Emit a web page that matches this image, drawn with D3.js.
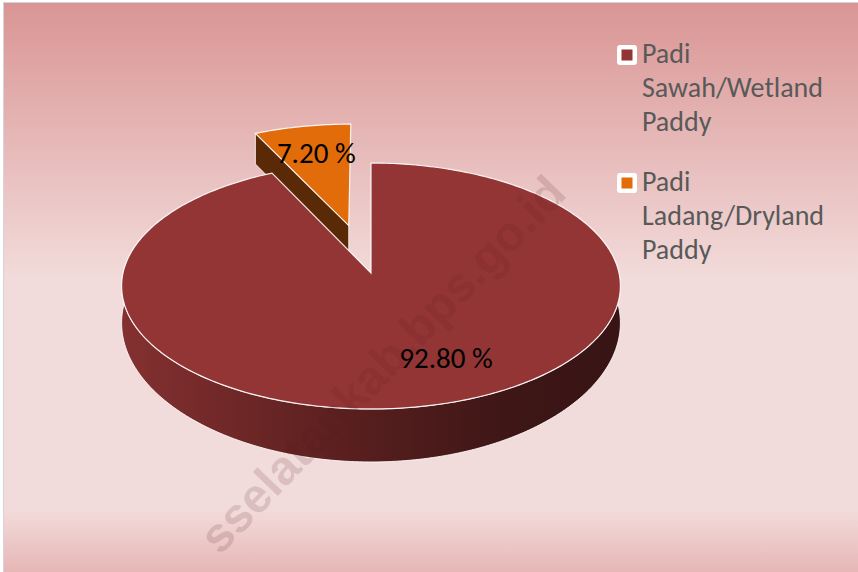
<!doctype html>
<html>
  <head>
    <meta charset="utf-8">
    <script src="https://cdn.jsdelivr.net/npm/d3@7"></script>
    <style>
      body { margin: 0; background: white; }
      .chart text { font-family: Carlito, Lato, "Open Sans", sans-serif; }
      .legend text { fill: #595959; font-size: 28px; }
      .slice-label { fill: black; font-size: 29px; }
      .watermark { font-family: "Liberation Sans", Arial, sans-serif !important; font-weight: bold; font-size: 48px; fill: #5a1a1a; fill-opacity: 0.15; }
    </style>
  </head>
  <body>
    <svg class="chart"></svg>

    <script>
      // data
      const categories = ["Padi Sawah/Wetland Paddy", "Padi Ladang/Dryland Paddy"]
      const shares = [92.80, 7.20]
      const legendLines = [["Padi", "Sawah/Wetland", "Paddy"], ["Padi", "Ladang/Dryland", "Paddy"]]
      const topColors = ["#943535", "#e36c0a"]
      const sideColors = ["#5a1f1f", "#5a2a06"]
      const explode = [0, 0.417]
      const watermarkText = "sselatankab.bps.go.id"

      const width = 858, height = 572

      // projection of the tilted pie (plane coords U, V in radius units)
      const cx = 371, cy = 273, rx = 248, ry = 121.6, k = 0.1057
      const project = (U, V, drop) => {
        const f = 1 / (1 - k * V)
        return [cx + rx * U * f, cy + ry * V * f + (drop || 0)]
      }
      const depth = (V) => 30 + 5.75 * (V + 1) * (V + 1)

      const svg = d3.select(".chart")
                    .attr("width", width)
                    .attr("height", height)

      const defs = svg.append("defs")

      const bg = defs.append("linearGradient")
                     .attr("id", "bg")
                     .attr("x1", 0).attr("y1", 0).attr("x2", 0).attr("y2", 1)
      bg.append("stop").attr("offset", 0).attr("stop-color", "#d99594")
      bg.append("stop").attr("offset", 0.48).attr("stop-color", "#f2dcdb")
      bg.append("stop").attr("offset", 0.87).attr("stop-color", "#f2dcdb")
      bg.append("stop").attr("offset", 1).attr("stop-color", "#e4afaf")

      const wall = defs.append("linearGradient")
                       .attr("id", "wall")
                       .attr("gradientUnits", "userSpaceOnUse")
                       .attr("x1", cx - rx).attr("y1", 0).attr("x2", cx + rx).attr("y2", 0)
      wall.append("stop").attr("offset", 0).attr("stop-color", "#843030")
      wall.append("stop").attr("offset", 0.45).attr("stop-color", "#5a1f1f")
      wall.append("stop").attr("offset", 0.78).attr("stop-color", "#3e1616")
      wall.append("stop").attr("offset", 1).attr("stop-color", "#381414")

      svg.append("rect")
        .attr("x", 3.5).attr("y", 2.5)
        .attr("width", width + 10).attr("height", height + 10)
        .attr("fill", "url(#bg)")
        .attr("stroke", "#d4d4d4")

      const pie = d3.pie().sort(null).value(d => d)
      const arcs = pie(shares)

      const line = d3.line()

      // points along the rim of a slice
      function rim(a, t0, t1, drop) {
        const ox = explode[a.index] * Math.sin((a.startAngle + a.endAngle) / 2)
        const oy = -explode[a.index] * Math.cos((a.startAngle + a.endAngle) / 2)
        const n = Math.max(4, Math.ceil((t1 - t0) * 60))
        return d3.range(n + 1).map(i => {
          const t = t0 + (t1 - t0) * i / n
          const U = ox + Math.sin(t), V = oy - Math.cos(t)
          return project(U, V, drop ? depth(V) : 0)
        })
      }
      function centre(a, r, t, drop) {
        const ox = explode[a.index] * Math.sin((a.startAngle + a.endAngle) / 2)
        const oy = -explode[a.index] * Math.cos((a.startAngle + a.endAngle) / 2)
        const U = ox + r * Math.sin(t), V = oy - r * Math.cos(t)
        return project(U, V, drop ? depth(V) : 0)
      }

      const pieG = svg.append("g")

      // small exploded slice first, it sits behind the big one
      const small = arcs[1], big = arcs[0]

      const cutTop = [centre(small, 0, 0), centre(small, 1, small.startAngle)]
      const cutBottom = [centre(small, 1, small.startAngle, true), centre(small, 0, 0, true)]
      pieG.append("path")
        .attr("d", line(cutTop.concat(cutBottom)) + "Z")
        .attr("fill", sideColors[1])
        .attr("stroke", "white").attr("stroke-width", 1).attr("stroke-opacity", 0.8)

      pieG.append("path")
        .attr("d", line([centre(small, 0, 0)].concat(rim(small, small.startAngle, small.endAngle))) + "Z")
        .attr("fill", topColors[1])
        .attr("stroke", "white").attr("stroke-width", 1.2).attr("stroke-opacity", 0.9)

      // front wall of the big slice
      const w0 = Math.PI / 2 - 0.5, w1 = 3 * Math.PI / 2 + 0.5
      const wallTop = rim(big, w0, w1)
      const wallBottom = rim(big, w0, w1, true).reverse()
      pieG.append("path")
        .attr("d", line(wallTop.concat(wallBottom)) + "Z")
        .attr("fill", "url(#wall)")
        .attr("stroke", "white").attr("stroke-width", 1).attr("stroke-opacity", 0.85)

      pieG.append("path")
        .attr("d", line([centre(big, 0, 0)].concat(rim(big, big.startAngle, big.endAngle))) + "Z")
        .attr("fill", topColors[0])
        .attr("stroke", "white").attr("stroke-width", 1.2).attr("stroke-opacity", 0.9)

      // watermark
      svg.append("text")
        .attr("class", "watermark")
        .attr("transform", "translate(382,364) rotate(-46)")
        .attr("text-anchor", "middle")
        .attr("dy", "0.35em")
        .text(watermarkText)

      // slice labels
      const fmt = d3.format(".2f")
      const labelOffset = [[33, -5], [1, -1]]
      arcs.forEach((a, i) => {
        const p = centre(a, 0.7, (a.startAngle + a.endAngle) / 2)
        svg.append("text")
          .attr("class", "slice-label")
          .attr("x", p[0] + labelOffset[i][0])
          .attr("y", p[1] + labelOffset[i][1])
          .attr("text-anchor", "middle")
          .attr("dy", "0.35em")
          .text(fmt(shares[i]) + " %")
      })

      // legend
      const legend = svg.append("g")
                        .attr("class", "legend")
                        .attr("transform", "translate(617,63)")

      const item = legend.selectAll("g")
        .data(categories)
        .enter().append("g")
          .attr("transform", (d, i) => "translate(0," + i * 128 + ")")

      item.append("rect")
        .attr("x", 0).attr("y", -18)
        .attr("width", 20).attr("height", 20)
        .attr("rx", 3)
        .attr("fill", "white")

      item.append("rect")
        .attr("x", 4.5).attr("y", -13.5)
        .attr("width", 11).attr("height", 11)
        .attr("fill", (d, i) => topColors[i])

      item.each(function(d, i) {
        const t = d3.select(this).append("text")
                    .attr("x", 25)
        legendLines[i].forEach((s, j) => {
          t.append("tspan").attr("x", 25).attr("y", j * 34).text(s)
        })
      })
    </script>
  </body>
</html>
